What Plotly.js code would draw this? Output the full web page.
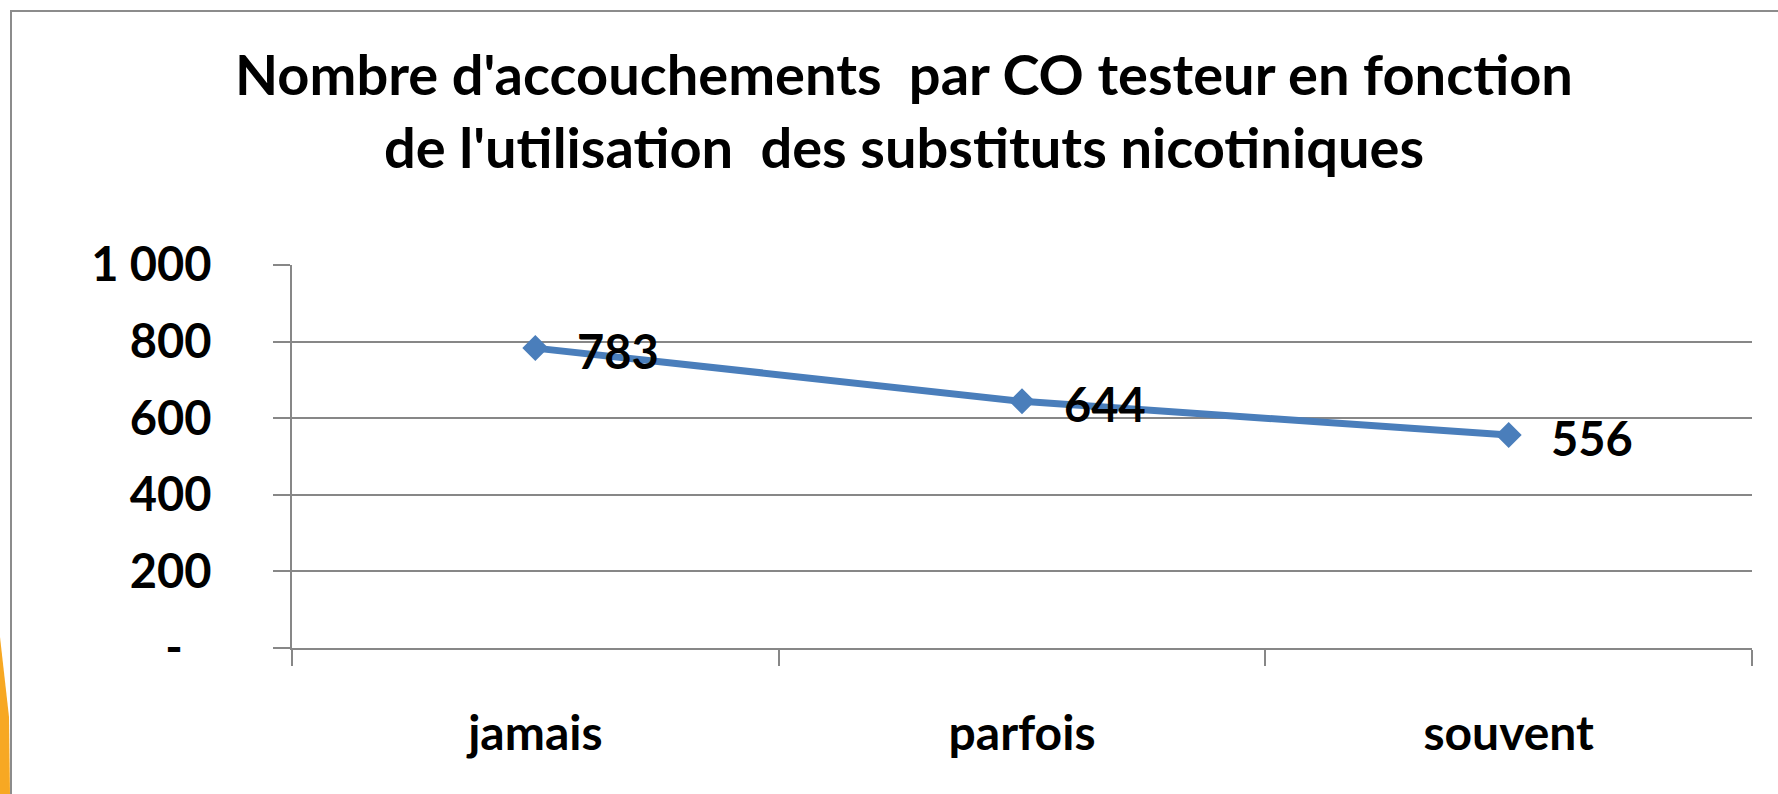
<!DOCTYPE html>
<html>
<head>
<meta charset="utf-8">
<script src="https://cdn.plot.ly/plotly-3.0.1.min.js"></script>
<style>
  html, body { margin: 0; padding: 0; background: #ffffff; }
  #chart { width: 1778px; height: 794px; }
</style>
</head>
<body>
<div id="chart"></div>
<script>
// Data
const categories = ["jamais", "parfois", "souvent"];
const values = [783, 644, 556];
const yTickVals = [0, 200, 400, 600, 800, 1000];
const yTickText = ["-\u00a0\u00a0\u2009", "200", "400", "600", "800", "1 000"];
const titleText = "Nombre d'accouchements  par CO testeur en fonction<br>de l'utilisation  des substituts nicotiniques";

const W = 1778, H = 794;
const M = { l: 292, r: 26, t: 265, b: 146 };
const pw = W - M.l - M.r, ph = H - M.t - M.b;
const px = v => (v - M.l) / pw;      // pixel -> paper x
const py = v => (H - M.b - v) / ph;  // pixel -> paper y

const FONT = "Lato, 'Open Sans', sans-serif";
const grey = "#878787";
const blue = "#4a7ebb";

const trace = {
  type: "scatter",
  mode: "lines+markers",
  x: categories,
  y: values,
  line: { color: blue, width: 7 },
  marker: { symbol: "diamond", size: 20, color: blue },
  hoverinfo: "skip",
  showlegend: false
};

const annotations = categories.map((c, i) => ({
  x: c, y: values[i], xref: "x", yref: "y",
  text: String(values[i]),
  showarrow: false, xanchor: "left", yanchor: "middle",
  xshift: 40, yshift: -3,
  font: { family: FONT, size: 47, color: "#000", weight: 700 }
}));

const layout = {
  width: W, height: H,
  margin: M,
  paper_bgcolor: "#ffffff",
  plot_bgcolor: "#ffffff",
  title: {
    text: titleText,
    font: { family: FONT, size: 56, color: "#000", weight: 700 },
    x: px(904), xref: "paper", xanchor: "center",
    y: 1 - 95 / H, yref: "container", yanchor: "middle"
  },
  xaxis: {
    type: "category",
    categoryorder: "array",
    categoryarray: categories,
    range: [-0.5, 2.5],
    tickson: "boundaries",
    ticks: "outside",
    ticklen: 16,
    tickwidth: 2,
    tickcolor: grey,
    showline: true,
    linecolor: grey,
    linewidth: 2,
    showgrid: false,
    zeroline: false,
    ticklabelstandoff: 42,
    tickfont: { family: FONT, size: 48, color: "#000", weight: 700 },
    fixedrange: true
  },
  yaxis: {
    range: [0, 1000],
    tickmode: "array",
    tickvals: yTickVals,
    ticktext: yTickText,
    ticks: "outside",
    ticklen: 17,
    tickwidth: 2,
    tickcolor: grey,
    showline: true,
    linecolor: grey,
    linewidth: 2,
    showgrid: true,
    gridcolor: grey,
    gridwidth: 2,
    zeroline: false,
    ticklabelstandoff: 52,
    tickfont: { family: FONT, size: 47, color: "#000", weight: 700 },
    fixedrange: true
  },
  annotations: annotations,
  shapes: [
    // chart frame (top and left edges visible)
    { type: "path", xref: "paper", yref: "paper",
      path: `M ${px(11)} ${py(1000)} L ${px(11)} ${py(11)} L ${px(2000)} ${py(11)}`,
      line: { color: "#8c8c8c", width: 2 }, layer: "above" },
    // orange background fragment at bottom-left
    { type: "path", xref: "paper", yref: "paper",
      path: `M ${px(0)} ${py(637)} L ${px(9)} ${py(717)} L ${px(10)} ${py(794)} L ${px(0)} ${py(794)} Z`,
      fillcolor: "#f7a823", line: { width: 0 }, layer: "below" }
  ]
};

Plotly.newPlot("chart", [trace], layout, { displayModeBar: false, staticPlot: true });
</script>
</body>
</html>
